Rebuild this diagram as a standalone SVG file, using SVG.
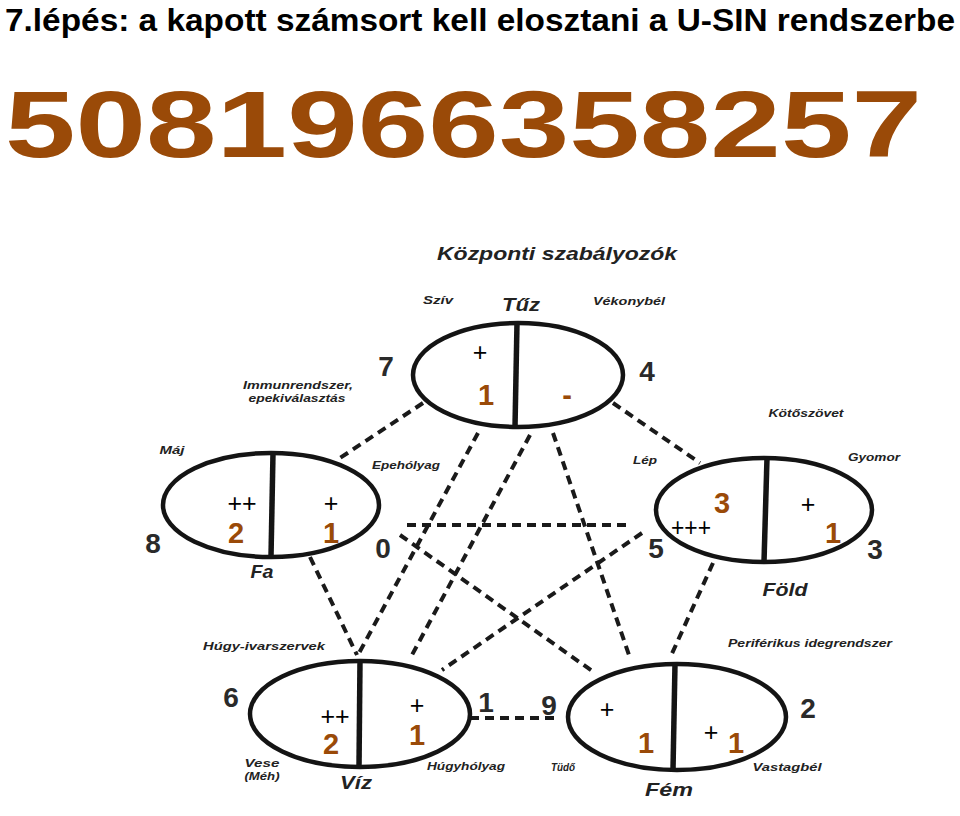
<svg xmlns="http://www.w3.org/2000/svg" width="960" height="816" viewBox="0 0 960 816">
<style>
.el{fill:none;stroke:#141414;stroke-width:4.5}
.dv{stroke:#141414;stroke-width:5.5}
.dash{fill:none;stroke:#1a1a1a;stroke-width:4;stroke-dasharray:9 6}
.num{font-family:"Liberation Sans",Arial,sans-serif;font-weight:bold;font-size:28px;fill:#2a2a2a;text-anchor:middle}
.lbl{font-family:"Liberation Sans",Arial,sans-serif;font-weight:bold;font-style:italic;font-size:11px;fill:#222;text-anchor:middle}
.big{font-family:"Liberation Sans",Arial,sans-serif;font-weight:bold;font-style:italic;font-size:18px;fill:#222;text-anchor:middle}
.pl{font-family:"Liberation Sans",Arial,sans-serif;font-size:25px;fill:#000;text-anchor:middle}
.br{font-family:"Liberation Sans",Arial,sans-serif;font-weight:bold;font-size:29px;fill:#9a4a08;text-anchor:middle}
</style>
<rect width="960" height="816" fill="#fff"/>
<text x="5" y="31" font-family="Liberation Sans,Arial,sans-serif" font-weight="bold" font-size="32" fill="#000" textLength="950" lengthAdjust="spacingAndGlyphs">7.lépés: a kapott számsort kell elosztani a U-SIN rendszerbe</text>
<text x="5" y="157" font-family="Liberation Sans,Arial,sans-serif" font-weight="bold" font-size="95" fill="#9a4a08" textLength="917" lengthAdjust="spacingAndGlyphs">5081966358257</text>
<text x="557" y="260" class="big" font-size="19" textLength="240" lengthAdjust="spacingAndGlyphs">Központi szabályozók</text>
<g id="connectors">
<line class="dash" x1="423" y1="403" x2="337" y2="460"/>
<line class="dash" x1="613" y1="403" x2="700" y2="463"/>
<line class="dash" x1="310" y1="557" x2="357" y2="655"/>
<line class="dash" x1="713" y1="563" x2="670" y2="658"/>
<line class="dash" x1="470" y1="718" x2="560" y2="718"/>
<line class="dash" x1="478" y1="433" x2="358" y2="655"/>
<line class="dash" x1="530" y1="435" x2="412" y2="655"/>
<line class="dash" x1="553" y1="433" x2="630" y2="658"/>
<line class="dash" x1="407" y1="525" x2="630" y2="525"/>
<line class="dash" x1="400" y1="535" x2="595" y2="673"/>
<line class="dash" x1="642" y1="533" x2="442" y2="670"/>
</g>
<g id="tuz">
<ellipse class="el" cx="518" cy="375" rx="105" ry="52"/>
<line class="dv" x1="517" y1="323" x2="515" y2="427"/>
<text x="438" y="304" class="lbl" textLength="30" lengthAdjust="spacingAndGlyphs">Szív</text>
<text x="521" y="311" class="big" textLength="38" lengthAdjust="spacingAndGlyphs">Tűz</text>
<text x="629" y="305" class="lbl" textLength="72" lengthAdjust="spacingAndGlyphs">Vékonybél</text>
<text x="386" y="376" class="num">7</text>
<text x="647" y="381" class="num">4</text>
<text x="480" y="361" class="pl">+</text>
<text x="486" y="405" class="br">1</text>
<text x="567" y="405" class="br">-</text>
</g>
<g id="fa">
<ellipse class="el" cx="271" cy="505" rx="108" ry="52"/>
<line class="dv" x1="273" y1="453" x2="271" y2="557"/>
<text x="298" y="389" class="lbl" textLength="110" lengthAdjust="spacingAndGlyphs">Immunrendszer,</text>
<text x="297" y="402" class="lbl" textLength="97" lengthAdjust="spacingAndGlyphs">epekiválasztás</text>
<text x="172" y="454" class="lbl" textLength="25" lengthAdjust="spacingAndGlyphs">Máj</text>
<text x="406" y="469" class="lbl" textLength="68" lengthAdjust="spacingAndGlyphs">Epehólyag</text>
<text x="262" y="578" class="big" font-size="17" textLength="23" lengthAdjust="spacingAndGlyphs">Fa</text>
<text x="153" y="553" class="num">8</text>
<text x="383" y="558" class="num">0</text>
<text x="242" y="512" class="pl">++</text>
<text x="236" y="543" class="br">2</text>
<text x="331" y="512" class="pl">+</text>
<text x="331" y="543" class="br">1</text>
</g>
<g id="fold">
<ellipse class="el" cx="764" cy="510" rx="108" ry="52"/>
<line class="dv" x1="767" y1="458" x2="764" y2="562"/>
<text x="806" y="417" class="lbl" textLength="75" lengthAdjust="spacingAndGlyphs">Kötőszövet</text>
<text x="645" y="464" class="lbl" textLength="24" lengthAdjust="spacingAndGlyphs">Lép</text>
<text x="874" y="461" class="lbl" textLength="52" lengthAdjust="spacingAndGlyphs">Gyomor</text>
<text x="785" y="596" class="big" textLength="45" lengthAdjust="spacingAndGlyphs">Föld</text>
<text x="656" y="558" class="num">5</text>
<text x="875" y="559" class="num">3</text>
<text x="722" y="513" class="br">3</text>
<text x="691" y="536" class="pl" textLength="40" lengthAdjust="spacingAndGlyphs">+++</text>
<text x="808" y="513" class="pl">+</text>
<text x="833" y="543" class="br">1</text>
</g>
<g id="viz">
<ellipse class="el" cx="360" cy="714" rx="110" ry="53"/>
<line class="dv" x1="360" y1="661" x2="359" y2="767"/>
<text x="264" y="650" class="lbl" textLength="122" lengthAdjust="spacingAndGlyphs">Húgy-ivarszervek</text>
<text x="262" y="767" class="lbl" textLength="35" lengthAdjust="spacingAndGlyphs">Vese</text>
<text x="262" y="780" class="lbl" textLength="35" lengthAdjust="spacingAndGlyphs">(Méh)</text>
<text x="466" y="770" class="lbl" textLength="78" lengthAdjust="spacingAndGlyphs">Húgyhólyag</text>
<text x="356" y="789" class="big" textLength="32" lengthAdjust="spacingAndGlyphs">Víz</text>
<text x="231" y="707" class="num">6</text>
<text x="486" y="712" class="num">1</text>
<text x="335" y="725" class="pl">++</text>
<text x="331" y="754" class="br">2</text>
<text x="417" y="714" class="pl">+</text>
<text x="417" y="745" class="br">1</text>
</g>
<g id="fem">
<ellipse class="el" cx="677" cy="717" rx="109" ry="53"/>
<line class="dv" x1="675" y1="664" x2="673" y2="770"/>
<text x="810" y="647" class="lbl" textLength="164" lengthAdjust="spacingAndGlyphs">Periférikus idegrendszer</text>
<text x="563" y="771" class="lbl" textLength="24" lengthAdjust="spacingAndGlyphs">Tüdő</text>
<text x="787" y="771" class="lbl" textLength="69" lengthAdjust="spacingAndGlyphs">Vastagbél</text>
<text x="669" y="796" class="big" textLength="48" lengthAdjust="spacingAndGlyphs">Fém</text>
<text x="549" y="715" class="num">9</text>
<text x="808" y="718" class="num">2</text>
<text x="607" y="718" class="pl">+</text>
<text x="646" y="753" class="br">1</text>
<text x="711" y="741" class="pl">+</text>
<text x="736" y="753" class="br">1</text>
</g>
</svg>
